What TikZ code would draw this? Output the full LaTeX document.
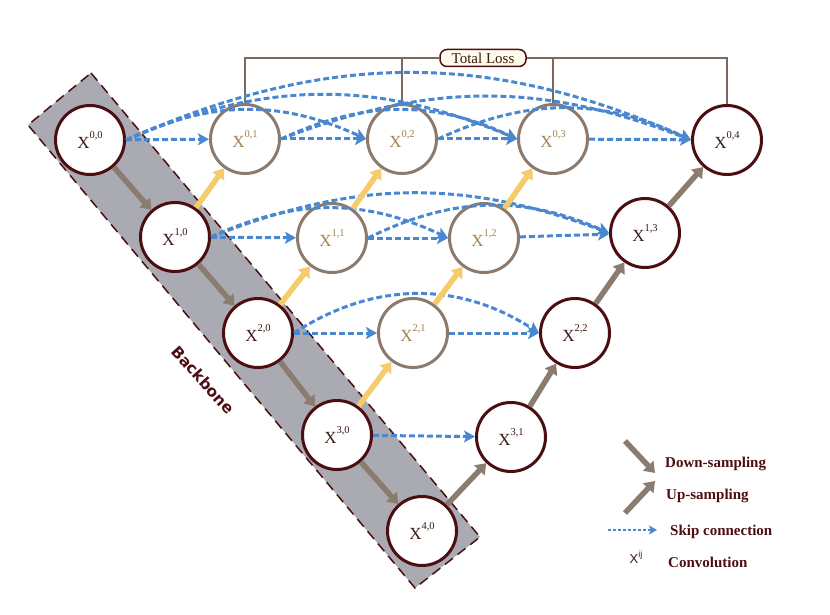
\documentclass[tikz,border=0pt]{standalone}
\usepackage{fontspec}
\setmainfont{Liberation Serif}
\newfontfamily\bbfont{DejaVu Sans}
\newfontfamily\lgsans{Liberation Sans}
\usetikzlibrary{arrows.meta}
\definecolor{dkred}{HTML}{4D0E12}
\definecolor{ltbrd}{HTML}{8C7B6C}
\definecolor{ltxt}{HTML}{A0824E}
\definecolor{dktxt}{HTML}{3A1A12}
\definecolor{brarr}{HTML}{8A7C6F}
\definecolor{yarr}{HTML}{F5CB6B}
\definecolor{skipb}{HTML}{4A87D1}
\definecolor{bandg}{HTML}{A9AAB2}
\definecolor{lossln}{HTML}{7B6A5F}
\definecolor{lossfill}{HTML}{FFFBEA}
\newcommand{\xl}[2]{X\raisebox{0.55em}{\fontsize{10.5}{10.5}\selectfont #1,#2}}
\begin{document}
\begin{tikzpicture}[x=1pt,y=-1pt,
 dk/.style={circle, draw=dkred, line width=3pt, fill=white, minimum size=69pt, inner sep=0pt, text=dktxt, font=\fontsize{17}{17}\selectfont},
 lt/.style={dk, draw=ltbrd, text=ltxt},
 downar/.style={draw=brarr, line width=5.5pt, -{Triangle[length=10pt,width=14pt]}},
 upy/.style={downar, draw=yarr},
 skipar/.style={draw=skipb, line width=3pt, dash pattern=on 6pt off 3pt, -{Stealth[length=11pt,width=12pt,inset=2.5pt]}},
 lossl/.style={draw=lossln, line width=2.8pt},
 legtxt/.style={anchor=west, inner sep=0pt, text=dkred, font=\fontsize{15}{15}\selectfont\bfseries}
]
\useasboundingbox (0,0) rectangle (830,615);
% backbone band
\draw[fill=bandg, draw=dkred, line width=1.5pt, dash pattern=on 10pt off 6pt] (91,73) -- (480,537) -- (415,588) -- (28,125) -- cycle;
\node[rotate=-48, text=dkred, font=\bbfont\bfseries\fontsize{15.5}{15.5}\selectfont] (bb) at (203,380) {Backbone};
% nodes
\node[dk] (x00) at (90,140) {\xl{0}{0}};
\node[dk] (x10) at (175,237) {\xl{1}{0}};
\node[dk] (x20) at (258,333) {\xl{2}{0}};
\node[dk] (x30) at (337,435) {\xl{3}{0}};
\node[dk] (x40) at (422,531) {\xl{4}{0}};
\node[lt] (x01) at (245,139) {\xl{0}{1}};
\node[lt] (x02) at (402,139) {\xl{0}{2}};
\node[lt] (x03) at (553,139) {\xl{0}{3}};
\node[dk] (x04) at (727,140) {\xl{0}{4}};
\node[lt] (x11) at (332,238) {\xl{1}{1}};
\node[lt] (x12) at (484,238) {\xl{1}{2}};
\node[dk] (x13) at (645,233) {\xl{1}{3}};
\node[lt] (x21) at (413,333) {\xl{2}{1}};
\node[dk] (x22) at (575,333) {\xl{2}{2}};
\node[dk] (x31) at (511,437) {\xl{3}{1}};
% total loss
\node[draw=dkred, fill=lossfill, rounded corners=7pt, line width=1.5pt, minimum width=86pt, minimum height=17pt, inner sep=0pt, text=dktxt, font=\fontsize{15}{15}\selectfont] (loss) at (483,58) {Total Loss};
\draw[lossl] (x01.north) |- (loss.west);
\draw[lossl] (x02.north) -- (x02.north |- loss.west);
\draw[lossl] (x03.north) -- (x03.north |- loss.east);
\draw[lossl] (x04.north) |- (loss.east);
% skip connections row 0
\draw[skipar] (x00) -- (x01);
\draw[skipar] (x01) -- (x02);
\draw[skipar] (x02) -- (x03);
\draw[skipar] (x03) -- (x04);
\draw[skipar] (x00.east) to[bend left=25] (x02.west);
\draw[skipar] (x00.east) to[bend left=23] (x03.west);
\draw[skipar] (x00.east) to[bend left=24] (x04.west);
\draw[skipar] (x01.east) to[bend left=25] (x03.west);
\draw[skipar] (x01.east) to[bend left=21] (x04.west);
\draw[skipar] (x02.east) to[bend left=25] (x04.west);
% row 1
\draw[skipar] (x10) -- (x11);
\draw[skipar] (x11) -- (x12);
\draw[skipar] (x12) -- (x13);
\draw[skipar] (x10.east) to[bend left=25] (x12.west);
\draw[skipar] (x10.east) to[bend left=21] (x13.west);
\draw[skipar] (x11.east) to[bend left=25] (x13.west);
% row 2
\draw[skipar] (x20) -- (x21);
\draw[skipar] (x21) -- (x22);
\draw[skipar] (x20.east) to[bend left=33] (x22.west);
% row 3
\draw[skipar] (x30) -- (x31);
% down-sampling
\draw[downar] (x00) -- (x10);
\draw[downar] (x10) -- (x20);
\draw[downar] (x20) -- (x30);
\draw[downar] (x30) -- (x40);
% decoder up-sampling
\draw[downar] (x40) -- (x31);
\draw[downar] (x31) -- (x22);
\draw[downar] (x22) -- (x13);
\draw[downar] (x13) -- (x04);
% nested up-sampling
\draw[upy] (x10) -- (x01);
\draw[upy] (x11) -- (x02);
\draw[upy] (x12) -- (x03);
\draw[upy] (x20) -- (x11);
\draw[upy] (x21) -- (x12);
\draw[upy] (x30) -- (x21);
% legend
\coordinate (la1) at (625,441); \coordinate (la2) at (655,473);
\draw[downar] (la1) -- (la2);
\coordinate (lb1) at (625,513); \coordinate (lb2) at (655,481);
\draw[downar] (lb1) -- (lb2);
\coordinate (lc1) at (608,530); \coordinate (lc2) at (657,530);
\draw[skipar, line width=1.6pt, dash pattern=on 3pt off 2pt, -{Stealth[length=8pt,width=9pt,inset=2pt]}] (lc1) -- (lc2);
\node[legtxt] (ld) at (665,464) {Down-sampling};
\node[legtxt] (lu) at (666,496) {Up-sampling};
\node[legtxt] (ls) at (670,532) {Skip connection};
\node[legtxt] (lcv) at (668,562) {Convolution};
\node[inner sep=0pt, text=dktxt, font=\lgsans\fontsize{13}{13}\selectfont] (lx) at (636,557) {X\raisebox{0.5em}{\fontsize{9}{9}\selectfont ij}};
\end{tikzpicture}
\end{document}
